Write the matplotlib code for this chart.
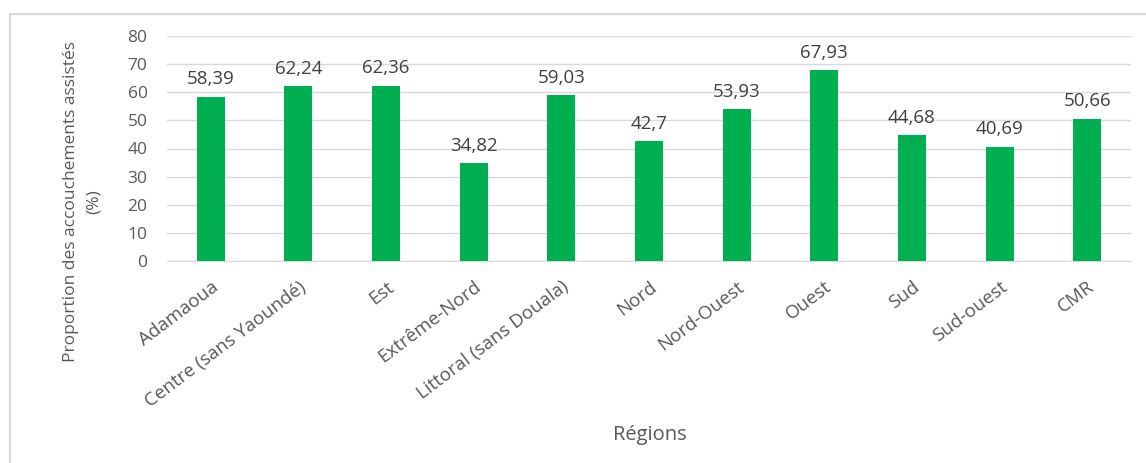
import matplotlib
matplotlib.use("Agg")
import matplotlib.pyplot as plt
from matplotlib.lines import Line2D

regions = ["Adamaoua", "Centre (sans Yaoundé)", "Est", "Extrême-Nord", "Littoral (sans Douala)",
           "Nord", "Nord-Ouest", "Ouest", "Sud", "Sud-ouest", "CMR"]
values = [58.39, 62.24, 62.36, 34.82, 59.03, 42.7, 53.93, 67.93, 44.68, 40.69, 50.66]
value_labels = ["58,39", "62,24", "62,36", "34,82", "59,03", "42,7", "53,93", "67,93", "44,68", "40,69", "50,66"]
yticks = [0, 10, 20, 30, 40, 50, 60, 70, 80]

plt.rcParams['font.family'] = ['Open Sans', 'DejaVu Sans']
txt = '#595959'

fig = plt.figure(figsize=(11.46, 4.63), dpi=100)
ax = fig.add_axes([167/1146, 202/463, (1131-167)/1146, 225/463])

x = list(range(len(regions)))
ax.bar(x, values, width=0.32, color='#00B050', zorder=3)
for xi, v, lab in zip(x, values, value_labels):
    ax.annotate(lab, (xi, v), xytext=(0, 6), textcoords='offset points',
                ha='center', va='bottom', fontsize=13.5, color='#404040')

ax.set_xlim(-0.5, len(regions) - 0.5)
ax.set_ylim(0, 80)
ax.set_yticks(yticks)
ax.set_yticklabels([str(t) for t in yticks], fontsize=12.5, color=txt)
ax.set_xticks(x)
ax.set_xticklabels(regions, rotation=37, ha='right', rotation_mode='anchor', fontsize=13.5, color=txt)
ax.tick_params(axis='y', length=0, pad=14)
ax.tick_params(axis='x', length=0, pad=12)
ax.grid(axis='y', color='#d9d9d9', linewidth=1, zorder=0)
for s in ['top', 'right', 'left']:
    ax.spines[s].set_visible(False)
ax.spines['bottom'].set_color('#d9d9d9')

fig.text(82/1146, 1 - 202/463, "Proportion des accouchements assistés\n(%)",
         rotation=90, ha='center', va='center', multialignment='center',
         fontsize=12.5, color=txt, linespacing=1.55)
fig.text(650/1146, 1 - 435/463, "Régions", ha='center', va='center', fontsize=14.5, color=txt)

fig.add_artist(Line2D([10/1146, 1], [1 - 14/463, 1 - 14/463], color='#d9d9d9', linewidth=1.5, transform=fig.transFigure))
fig.add_artist(Line2D([10/1146, 10/1146], [0, 1 - 14/463], color='#d9d9d9', linewidth=1.5, transform=fig.transFigure))

fig.savefig("out.png", dpi=100)
